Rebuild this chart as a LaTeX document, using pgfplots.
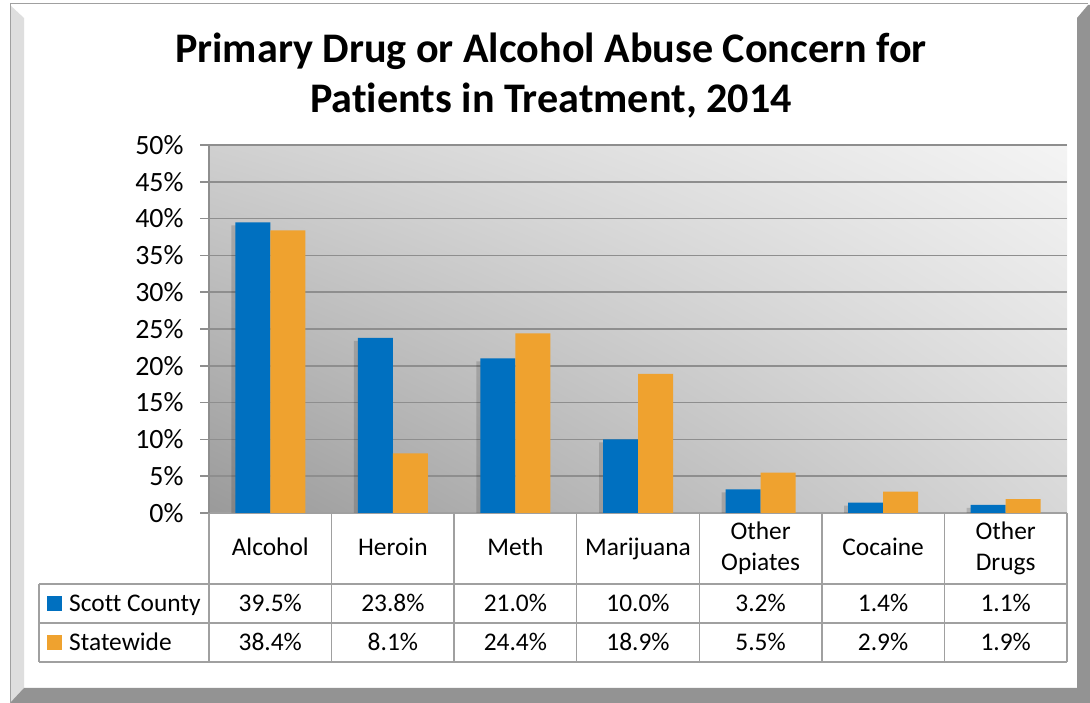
\documentclass[border=0pt]{standalone}
\usepackage{fontspec}
\setmainfont{Carlito}[Ligatures=NoCommon]
\usepackage{pgfplots}
\pgfplotsset{compat=1.18}
\usetikzlibrary{shadings,shadows}
\definecolor{cblue}{HTML}{0070C0}
\definecolor{corange}{HTML}{EFA22F}
\definecolor{gridc}{HTML}{8E8E8E}
\definecolor{tablec}{HTML}{A0A0A0}
\definecolor{bgll}{HTML}{9A9A9A}
\definecolor{bgul}{HTML}{D0D0D0}
\definecolor{bgur}{HTML}{F4F4F4}
\definecolor{bglr}{HTML}{D8D8D8}
\definecolor{bevlight}{HTML}{DEDEDE}
\definecolor{bevdark}{HTML}{939393}

\pgfplotstableread{
x scott state
0 39.5 38.4
1 23.8 8.1
2 21.0 24.4
3 10.0 18.9
4 3.2 5.5
5 1.4 2.9
6 1.1 1.9
}\datatable

\begin{document}
\begin{tikzpicture}[x=1bp,y=1bp]
\path[use as bounding box] (0,0) rectangle (1090,703);
% frame
\fill[white] (10,0) rectangle (1090,700);
\fill[bevlight] (10,0) -- (10,698) -- (24,685) -- (24,15) -- cycle;
\fill[bevdark] (10,0) -- (24,15) -- (1077,15) -- (1077,685) -- (1088,698) -- (1090,698) -- (1090,0) -- cycle;
\draw[tablec, line width=1.5] (10.75,0) -- (10.75,699.25) -- (1088,699.25);
% title
\node[font=\fontsize{42.3}{50}\selectfont\bfseries, anchor=base] at (551,640) {Primary Drug or Alcohol Abuse Concern for};
\node[font=\fontsize{42.3}{50}\selectfont\bfseries, anchor=base] at (551,590) {Patients in Treatment, 2014};

\begin{axis}[
  at={(209bp,190bp)}, anchor=south west,
  width=858bp, height=368bp, scale only axis,
  xmin=-0.5, xmax=6.5, ymin=0, ymax=50,
  ytick={0,5,...,50},
  yticklabel={\pgfmathprintnumber{\tick}\%},
  /pgf/number format/assume math mode=true,
  yticklabel style={font=\fontsize{28}{30}\selectfont, text=black, xshift=-13bp},
  xtick=\empty,
  axis lines=left,
  axis line style={-, draw=tablec, line width=1.5bp},
  y axis line style={draw=gridc},
  ymajorgrids,
  grid style={draw=gridc, line width=1.5bp},
  tick align=outside,
  major tick length=9bp,
  ytick style={draw=gridc, line width=1.5bp},
  axis background/.style={shading=bilinear interpolation,
    lower left=bgll, upper left=bgul, upper right=bgur, lower right=bglr},
  ybar=0pt, bar width=0.2855,
  clip=true,
]
\addplot[draw=none, fill=cblue, general shadow={shadow xshift=-4bp, shadow yshift=-3bp, fill=black, opacity=0.15}] table[x=x, y=scott] {\datatable};
\addplot[draw=none, fill=corange] table[x=x, y=state] {\datatable};
\end{axis}

% data table
\begin{scope}[tablec, line width=1.5]
\draw (39,119) -- (1067,119);
\draw (39,80) -- (1067,80);
\draw (39,41) -- (1067,41);
\draw (39,41) -- (39,119);
\foreach \xx in {209,331.57,454.14,576.71,699.29,821.86,944.43,1067} {
  \draw (\xx,41) -- (\xx,190);
}
\end{scope}
\begin{scope}[every node/.style={font=\fontsize{25.5}{30.5}\selectfont, inner sep=0pt}]
\node[anchor=base] at (270.3,147) {Alcohol};
\node[anchor=base] at (392.9,147) {Heroin};
\node[anchor=base] at (515.4,147) {Meth};
\node[anchor=base] at (638.0,147) {Marijuana};
\node[anchor=base] at (760.6,163) {Other};
\node[anchor=base] at (760.6,132.5) {Opiates};
\node[anchor=base] at (883.1,147) {Cocaine};
\node[anchor=base] at (1005.7,163) {Other};
\node[anchor=base] at (1005.7,132.5) {Drugs};
\fill[cblue] (47,92) rectangle (62,107);
\fill[corange] (47,53) rectangle (62,68);
\node[anchor=base west] at (69,91.5) {Scott County};
\node[anchor=base west] at (69,52.5) {Statewide};
\foreach \xx/\v in {270.3/39.5\%,392.9/23.8\%,515.4/21.0\%,638.0/10.0\%,760.6/3.2\%,883.1/1.4\%,1005.7/1.1\%} {
  \node[anchor=base] at (\xx,91.5) {\v};
}
\foreach \xx/\v in {270.3/38.4\%,392.9/8.1\%,515.4/24.4\%,638.0/18.9\%,760.6/5.5\%,883.1/2.9\%,1005.7/1.9\%} {
  \node[anchor=base] at (\xx,52.5) {\v};
}
\end{scope}
\end{tikzpicture}
\end{document}
